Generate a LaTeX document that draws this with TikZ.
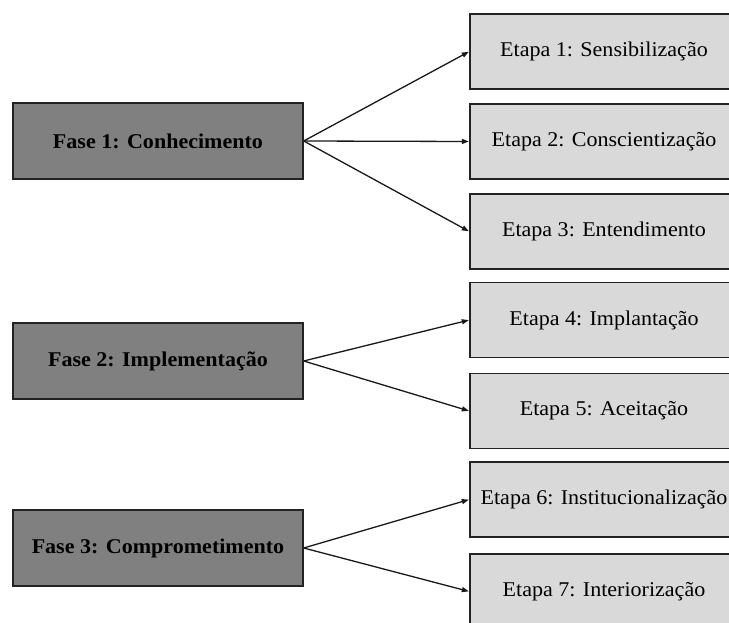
\documentclass[tikz,border=0pt]{standalone}
\usepackage{fontspec}
\setmainfont[FakeStretch=1.05]{Liberation Serif}
\usetikzlibrary{arrows.meta}
\definecolor{fasegray}{RGB}{128,128,128}
\definecolor{etapagray}{RGB}{217,217,217}
\definecolor{edgegray}{RGB}{35,35,35}
\tikzset{
  fasebox/.style={draw=edgegray, line width=1.4pt, fill=fasegray, minimum width=290pt, minimum height=76pt, inner sep=0pt, font=\fontsize{21}{24}\selectfont\bfseries, text=black},
  etapabox/.style={draw=edgegray, line width=1.4pt, fill=etapagray, minimum width=268pt, minimum height=75pt, inner sep=0pt, font=\fontsize{21}{24}\selectfont, text=black},
  conn/.style={draw=black!90, line width=1.3pt, -{Triangle[length=7pt,width=5pt]}, shorten >=0.5pt}
}
\begin{document}
\begin{tikzpicture}[x=1pt,y=-1pt]
\clip (0,0) rectangle (729,623);
\fill[white] (0,0) rectangle (729,623);
\node[fasebox] (f1) at (158,141) {Fase 1: Conhecimento};
\node[fasebox] (f2) at (158,361) {Fase 2: Implementação};
\node[fasebox] (f3) at (158,548) {Fase 3: Comprometimento};
\node[etapabox] (e1) at (604,51.5) {Etapa 1: Sensibilização};
\node[etapabox] (e2) at (604,141.5) {Etapa 2: Conscientização};
\node[etapabox] (e3) at (604,231.5) {Etapa 3: Entendimento};
\node[etapabox] (e4) at (604,320) {Etapa 4: Implantação};
\node[etapabox] (e5) at (604,411) {Etapa 5: Aceitação};
\node[etapabox] (e6) at (604,499.5) {Etapa 6: Institucionalização};
\node[etapabox] (e7) at (604,591.5) {Etapa 7: Interiorização};
\draw[conn] (f1.east) -- (e1.west);
\draw[conn] (f1.east) -- (e2.west);
\draw[conn] (f1.east) -- (e3.west);
\draw[conn] (f2.east) -- (e4.west);
\draw[conn] (f2.east) -- (e5.west);
\draw[conn] (f3.east) -- (e6.west);
\draw[conn] (f3.east) -- (e7.west);
\end{tikzpicture}
\end{document}
